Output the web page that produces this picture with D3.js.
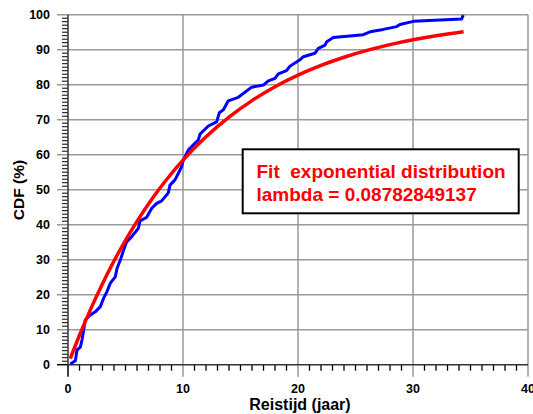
<!DOCTYPE html>
<html><head><meta charset="utf-8">
<script src="https://cdn.jsdelivr.net/npm/d3@7"></script>
<style>body{margin:0;background:#fff}svg{display:block}</style>
</head><body>
<svg id="c" width="533" height="414"></svg>
<script>
const xTicks = [0, 10, 20, 30, 40];
const yTicks = [0, 10, 20, 30, 40, 50, 60, 70, 80, 90, 100];
const empX = [0.2,0.64,0.78,1.07,1.22,1.36,1.5,1.94,2.37,2.81,3.1,3.39,3.68,4.11,4.26,4.55,4.84,5.1,5.54,6.12,6.26,6.84,7.28,7.71,8.15,8.72,8.87,9.3,9.6,9.88,10.03,10.46,10.9,11.33,11.48,12.2,12.93,13.16,13.5,13.94,14.81,15.97,16.99,17.42,18.0,18.29,19.0,19.3,20.17,20.46,21.48,21.77,22.35,22.5,23.07,25.68,26.26,27.42,28.58,28.87,30.03,34.23,34.37];
const empY = [0.2,1.1,4.2,5.0,7.1,9.9,12.8,14.2,15.1,16.6,19.0,20.9,23.3,25.1,27.5,29.9,32.8,35.1,36.6,39.0,41.1,42.1,44.7,46.1,46.8,49.1,51.3,52.8,54.7,56.6,58.5,61.3,62.8,64.2,65.9,68.2,69.4,72.0,72.8,75.4,76.4,79.3,79.9,81.1,81.8,83.1,84.0,85.3,87.1,88.0,89.0,90.4,91.3,92.3,93.5,94.3,95.1,95.8,96.6,97.2,98.1,98.8,99.9];
const fitX = [0.2,1,2,3,4,5,6,7,8,9,10,12,14,16,18,20,22,24,26,28,30,32,34.4];
const fitY = [1.74,8.41,16.1,23.16,29.62,35.54,40.96,45.92,50.47,54.63,58.44,65.14,70.75,75.46,79.42,82.73,85.51,87.85,89.8,91.45,92.82,93.98,95.12];
const xLabel = "Reistijd (jaar)";
const yLabel = "CDF (%)";
const boxLines = ["Fit  exponential distribution", "lambda = 0.08782849137"];

const svg = d3.select("#c");
const x = d3.scaleLinear().domain([0, 40]).range([68, 528]);
const y = d3.scaleLinear().domain([0, 100]).range([364.7, 14.7]);
const font = "Arial, 'Liberation Sans', Helvetica, sans-serif";

// grid
svg.append("g").selectAll("line").data(xTicks.slice(1)).join("line")
  .attr("x1", d => x(d)).attr("x2", d => x(d)).attr("y1", y(100)).attr("y2", y(0) + 12)
  .attr("stroke", "#999").attr("stroke-width", 1.5);
svg.append("g").selectAll("line").data(yTicks.slice(1)).join("line")
  .attr("x1", x(0) - 11).attr("x2", x(40)).attr("y1", d => y(d)).attr("y2", d => y(d))
  .attr("stroke", "#999").attr("stroke-width", 1.5);

// minor ticks
const minorX = d3.range(0, 41).filter(d => d % 10 !== 0);
svg.append("g").selectAll("line").data(minorX).join("line")
  .attr("x1", d => x(d)).attr("x2", d => x(d)).attr("y1", y(0)).attr("y2", y(0) + 6)
  .attr("stroke", "#000").attr("stroke-width", 1.3);
const minorY = d3.range(0, 101).filter(d => d % 10 !== 0);
svg.append("g").selectAll("line").data(minorY).join("line")
  .attr("x1", x(0) - 6).attr("x2", x(0)).attr("y1", d => y(d)).attr("y2", d => y(d))
  .attr("stroke", "#000").attr("stroke-width", 1);
// major ticks at origin
svg.append("line").attr("x1", x(0)).attr("x2", x(0)).attr("y1", y(0)).attr("y2", y(0) + 12).attr("stroke", "#000").attr("stroke-width", 1.5);
svg.append("line").attr("x1", x(0) - 11).attr("x2", x(0)).attr("y1", y(0)).attr("y2", y(0)).attr("stroke", "#000").attr("stroke-width", 1.5);

// axes lines
svg.append("line").attr("x1", x(0)).attr("x2", x(0)).attr("y1", y(100)).attr("y2", y(0)).attr("stroke", "#333").attr("stroke-width", 1.5);
svg.append("line").attr("x1", x(0)).attr("x2", x(40)).attr("y1", y(0)).attr("y2", y(0)).attr("stroke", "#333").attr("stroke-width", 1.5);

// tick labels
svg.append("g").selectAll("text").data(yTicks).join("text")
  .attr("x", 50).attr("y", d => y(d) + 4.5).attr("text-anchor", "end")
  .attr("font-family", font).attr("font-weight", "bold").attr("font-size", 12.5).text(d => d);
svg.append("g").selectAll("text").data(xTicks).join("text")
  .attr("x", d => x(d)).attr("y", 393).attr("text-anchor", "middle")
  .attr("font-family", font).attr("font-weight", "bold").attr("font-size", 12.5).text(d => d);

svg.append("text").attr("x", 300).attr("y", 410).attr("text-anchor", "middle")
  .attr("font-family", font).attr("font-weight", "bold").attr("font-size", 16).text(xLabel);
svg.append("text").attr("transform", "translate(24,190) rotate(-90)").attr("text-anchor", "middle")
  .attr("font-family", font).attr("font-weight", "bold").attr("font-size", 15.5).text(yLabel);

// lines
const line = d3.line().x(d => x(d[0])).y(d => y(d[1]));
svg.append("path").datum(d3.zip(empX, empY)).attr("d", line)
  .attr("fill", "none").attr("stroke", "#0000ff").attr("stroke-width", 3).attr("stroke-linejoin", "round");
svg.append("path").datum(d3.zip(fitX, fitY)).attr("d", line.curve(d3.curveMonotoneX))
  .attr("fill", "none").attr("stroke", "#ff0000").attr("stroke-width", 3.5);

// box
svg.append("rect").attr("x", 242.7).attr("y", 149.3).attr("width", 276).attr("height", 64)
  .attr("fill", "#fff").attr("stroke", "#000").attr("stroke-width", 2);
svg.append("g").selectAll("text").data(boxLines).join("text")
  .attr("x", 256.5).attr("y", (d, i) => 177.5 + i * 23)
  .attr("font-family", font).attr("font-weight", "bold").attr("font-size", 19).attr("fill", "#ff0000")
  .attr("xml:space", "preserve").style("white-space", "pre").text(d => d);
</script>
</body></html>
